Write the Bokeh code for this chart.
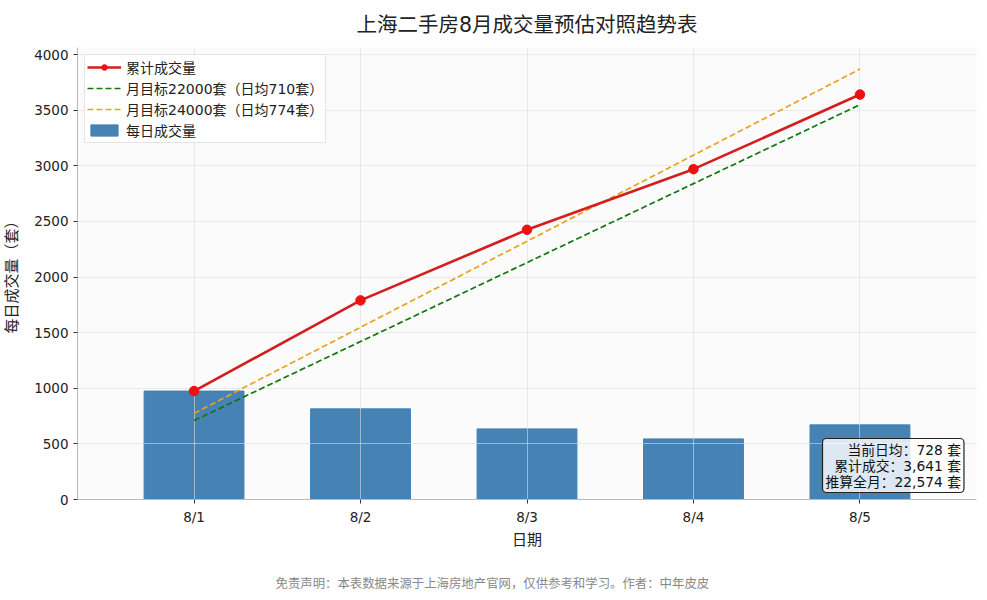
from bokeh.plotting import figure
from bokeh.models import (Range1d, FactorRange, Label, Title, Legend, LegendItem,
                          FixedTicker)
from bokeh.embed import file_html
from bokeh.resources import INLINE

# ---- data ----
days = ["8/1", "8/2", "8/3", "8/4", "8/5"]
daily = [975, 815, 635, 545, 671]
cumulative = [975, 1790, 2425, 2970, 3641]
target_22000 = [710, 1420, 2130, 2840, 3550]
target_24000 = [774, 1548, 2322, 3096, 3870]
y_ticks = [0, 500, 1000, 1500, 2000, 2500, 3000, 3500, 4000]
legend_labels = ["累计成交量", "月目标22000套（日均710套）", "月目标24000套（日均774套）", "每日成交量"]
info_lines = ["当前日均：728 套", "累计成交：3,641 套", "推算全月：22,574 套"]
title_text = "上海二手房8月成交量预估对照趋势表"
footer_text = "免责声明：本表数据来源于上海房地产官网，仅供参考和学习。作者：中年皮皮"

FONT = "'DejaVu Sans', 'Noto Sans CJK SC'"

p = figure(frame_width=899, frame_height=452,
           x_range=FactorRange(*days, range_padding=0.2, range_padding_units="absolute"),
           y_range=Range1d(0, 4064),
           output_backend="svg", toolbar_location=None,
           min_border_left=70, min_border_right=2, min_border_top=39, min_border_bottom=85,
           background_fill_color="#fbfbfb", border_fill_color="white",
           outline_line_color=None)

p.title.text = title_text
p.title.align = "center"
p.title.text_font = FONT
p.title.text_font_size = "20.5px"
p.title.text_font_style = "normal"
p.title.text_color = "#222222"
p.title.standoff = 21

bars = p.vbar(x=days, top=daily, width=0.6, color="#4682B4", level="underlay")
g22 = p.line(days, target_22000, color="#117711", line_width=1.7, line_dash="6 3")
g24 = p.line(days, target_24000, color="#E8A31E", line_width=1.7, line_dash="6 3")
cl = p.line(days, cumulative, color="#D41E1E", line_width=2.6)
cm = p.scatter(days, cumulative, size=9.5, color="#EE1111")

legend = Legend(items=[
    LegendItem(label=legend_labels[0], renderers=[cl, cm]),
    LegendItem(label=legend_labels[1], renderers=[g22]),
    LegendItem(label=legend_labels[2], renderers=[g24]),
    LegendItem(label=legend_labels[3], renderers=[bars]),
], location="top_left")
legend.label_text_font = FONT
legend.label_text_font_size = "14px"
legend.label_text_color = "#222222"
legend.label_height = 14
legend.glyph_width = 34
legend.glyph_height = 14
legend.spacing = 1
legend.padding = 2
legend.margin = 7
legend.border_line_color = "#cccccc"
legend.background_fill_alpha = 0.85
p.add_layout(legend, "center")

info = Label(x=4.5, y=0, x_offset=104, y_offset=7, text="\n".join(info_lines),
             text_align="right", text_baseline="bottom", text_line_height=1.0,
             text_font=FONT, text_font_size="13.8px", text_color="#111111",
             background_fill_color="white", background_fill_alpha=0.82,
             border_line_color="#222222", border_line_width=1.2,
             padding=3, border_radius=4)
p.add_layout(info)

p.yaxis.ticker = FixedTicker(ticks=y_ticks)
for ax in (p.xaxis, p.yaxis):
    ax.axis_line_color = "#bbbbbb"
    ax.major_tick_line_color = "#333333"
    ax.major_tick_out = 4
    ax.major_tick_in = 0
    ax.minor_tick_line_color = None
    ax.major_label_text_font = FONT
    ax.major_label_text_font_size = "13.5px"
    ax.major_label_text_color = "#222222"
    ax.axis_label_text_font = FONT
    ax.axis_label_text_font_size = "15px"
    ax.axis_label_text_font_style = "normal"
    ax.axis_label_text_color = "#222222"
    ax.major_label_standoff = 5
p.xaxis.axis_label = "日期"
p.yaxis.axis_label = "每日成交量（套）"
p.xaxis.axis_label_standoff = 3
p.yaxis.axis_label_standoff = 10

p.grid.grid_line_color = "#dddddd"
p.grid.grid_line_alpha = 0.6

footer = Title(text=footer_text, align="left", offset=198, text_font=FONT,
               text_font_size="12.4px", text_color="#888888",
               text_font_style="normal", standoff=44)
p.add_layout(footer, "below")

open("out.html", "w").write(file_html(p, INLINE))
